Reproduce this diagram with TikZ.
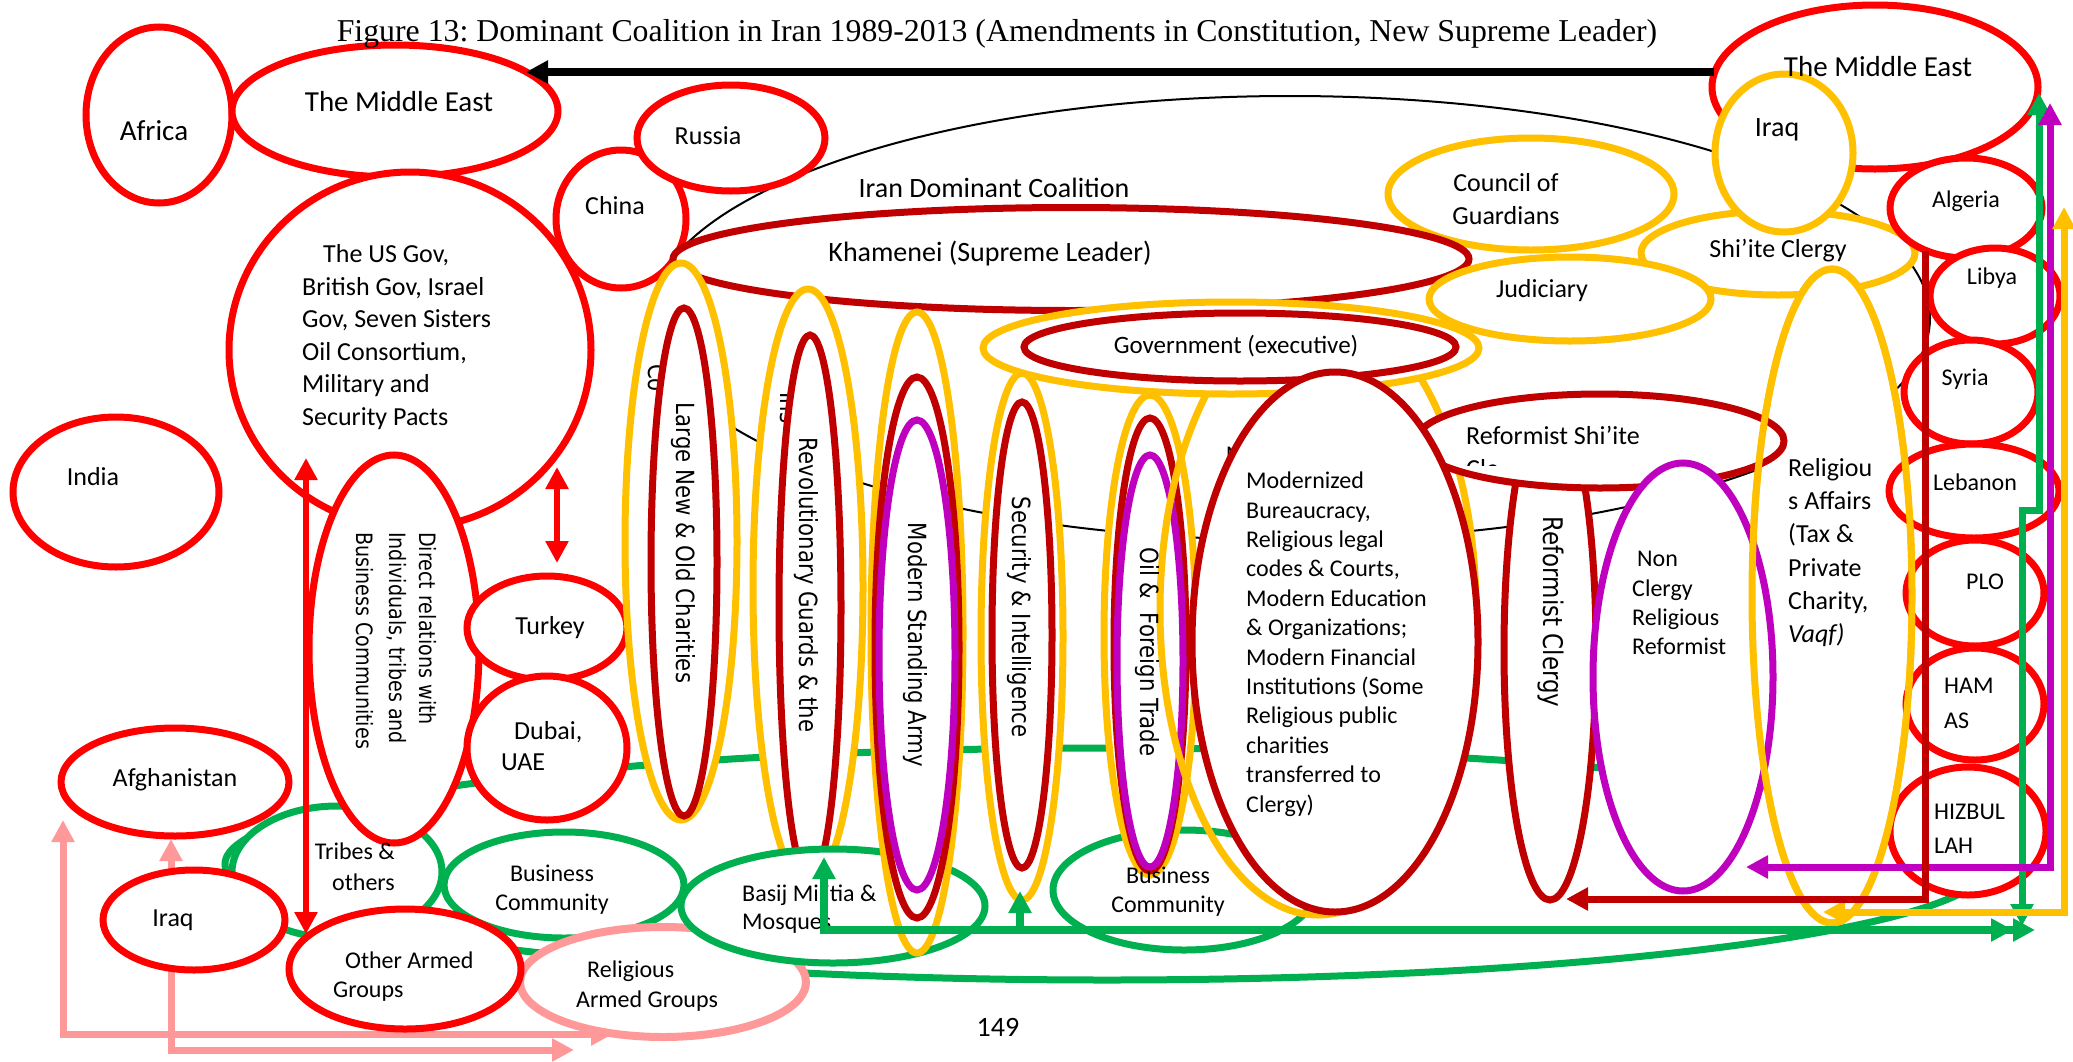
\documentclass[tikz,border=0pt]{standalone}
\usepackage{fontspec}
\setmainfont{Carlito}
\newfontfamily\titlefont{Liberation Serif}
\newfontfamily\rotfont{DejaVu Sans}[FakeStretch=0.85]
\usetikzlibrary{shapes.geometric,arrows.meta}
\definecolor{cRed}{HTML}{FF0000}
\definecolor{cDred}{HTML}{C00000}
\definecolor{cGold}{HTML}{FFC000}
\definecolor{cPurp}{HTML}{BF00BF}
\definecolor{cGreen}{HTML}{00B050}
\definecolor{cPink}{HTML}{FF9999}
\newcommand{\fz}[2]{\fontsize{#1bp}{#2bp}\selectfont}
\frenchspacing
\begin{document}
\begin{tikzpicture}[x=1bp,y=-1bp,
  >={Triangle[length=22bp,width=22bp]},
  oval/.style={ellipse, draw, fill=white, line width=7bp, inner sep=0pt, outer sep=0pt},
  sz/.style 2 args={minimum width=#1bp, minimum height=#2bp},
  rd/.style={oval, draw=cRed},
  drd/.style={oval, draw=cDred},
  gd/.style={oval, draw=cGold},
  pu/.style={oval, draw=cPurp},
  gr/.style={oval, draw=cGreen},
  pk/.style={oval, draw=cPink, line width=8bp},
  lbl/.style={inner sep=0pt, font=\fz{26}{31}},
  lbls/.style={inner sep=0pt, font=\fz{24}{29}},
  vtext/.style={inner sep=0pt, rotate=-90, font=\rotfont\fz{25}{30}},
  block/.style={anchor=north west, align=left},
  linkarrow/.style={line width=7bp}]

\fill[white] (0,0) rectangle (2073,1061);
\useasboundingbox (0,0) rectangle (2073,1061);

% outline of the coalition and of the wider society
\node[oval, draw=black, fill=none, line width=2bp, sz={1280}{444}] (coalition) at (1290,318) {};
\node[gr, sz={1764}{232}] (society) at (1107,864) {};

% pink links from Afghanistan and Iraq to the armed groups
\coordinate (pkA1) at (63,820);
\coordinate (pkA2) at (613,1034);
\coordinate (pkB1) at (171,839);
\coordinate (pkB2) at (574,1050);
\draw[<->, linkarrow, draw=cPink] (pkA1) |- (pkA2);
\draw[<->, linkarrow, draw=cPink] (pkB1) |- (pkB2);

% lower left groups
\node[gr, sz={210}{132}] (tribes) at (337,872) {};
\node[gr, sz={240}{106}] (bizL) at (564,885) {};
\node[pk, sz={286}{110}] (relarmed) at (663,982) {};
\node[rd, sz={232}{120}] (otherarmed) at (405,969) {};
\node[rd, sz={182}{100}] (iraqL) at (194,920) {};
\node[rd, sz={228}{108}] (afghan) at (175,782) {};

% foreign actors, left
\node[rd, sz={206}{150}] (india) at (116,492) {};
\node[rd, sz={146}{176}] (africa) at (159,115) {};
\node[rd, sz={326}{132}] (meL) at (395,111) {};
\node[rd, sz={362}{356}] (usgov) at (410,350) {};
\node[rd, sz={170}{388}] (direct) at (394,649) {};
\node[rd, sz={160}{104}] (turkey) at (547,628) {};
\node[rd, sz={160}{144}] (dubai) at (547,748) {};
\node[rd, sz={130}{138}] (china) at (621,219) {};
\node[rd, sz={188}{106}] (russia) at (731,138) {};

% top of the coalition
\node[gd, sz={286}{112}] (council) at (1531,194) {};
\node[gd, sz={274}{84}] (shiite) at (1778,253) {};
\node[drd, sz={796}{103}] (khamenei) at (1071,259) {};

% institution columns
\node[gd, sz={112}{557}] (charG) at (681,541.5) {};
\node[vtext] (fragA) at (658,378) {Co};
\node[drd, sz={66}{508}] (charR) at (684,562) {};
\node[gd, sz={110}{596}] (irgcG) at (808,587) {};
\node[vtext] (fragB) at (789,408) {Ins};
\node[drd, sz={62}{545}] (irgcR) at (810,607.5) {};
\node[gr, sz={304}{114}] (basij) at (833,906) {};
\node[gd, sz={92}{641}] (armyG) at (917,632.5) {};
\node[drd, sz={84}{541}] (armyR) at (917,647.5) {};
\node[pu, sz={76}{470}] (armyP) at (917,655) {};
\node[gd, sz={82}{527}] (secG) at (1022,636.5) {};
\node[drd, sz={60}{466}] (secR) at (1022,635) {};
\node[gr, sz={262}{120}] (bizR) at (1184,890) {};
\node[gd, sz={92}{480}] (oilG) at (1150,635) {};
\node[drd, sz={72}{453}] (oilR) at (1150,644.5) {};
\node[pu, sz={66}{412}] (oilP) at (1150,661) {};
\node[gd, fill=none, sz={316}{610}] (bureauG) at (1318,610) {};
\node[lbls] (fragC) at (1236,455) {M};
\node[gd, sz={496}{92}] (govG) at (1231,348) {};
\node[drd, sz={432}{68}] (govR) at (1240,347) {};
\node[gd, sz={282}{84}] (judiciary) at (1570,299) {};
\node[gd, sz={160}{654}] (relaff) at (1832,596) {};
\node[drd, sz={92}{500}] (refcl) at (1550,650) {};
\node[drd, sz={368}{94}] (refshi) at (1600,441) {};
\node[drd, sz={286}{540}] (modern) at (1335,642) {};
\node[pu, sz={180}{428}] (nonclergy) at (1683,677) {};

% foreign actors, right
\node[rd, sz={326}{164}] (meR) at (1875,87) {};
\node[gd, sz={138}{158}] (iraqR) at (1784,153) {};
\node[rd, sz={152}{100}] (algeria) at (1966,208) {};
\node[rd, sz={130}{96}] (libya) at (1995,296) {};
\node[rd, sz={134}{104}] (syria) at (1971,392) {};
\node[rd, sz={170}{94}] (lebanon) at (1974,491) {};
\node[rd, sz={138}{106}] (plo) at (1975,593) {};
\node[rd, sz={138}{112}] (hamas) at (1975,704) {};
\node[rd, sz={156}{128}] (hizb) at (1968,831) {};
\node[gd, fill=none, sz={160}{654}] (relaffrim) at (1832,596) {};

% labels
\node[inner sep=0pt, font=\titlefont\fz{31.8}{36}] (title) at (997,34) {Figure 13: Dominant Coalition in Iran 1989-2013 (Amendments in Constitution, New Supreme Leader)};
\node[lbl, font=\fz{29}{34}] (tMEL) at (399,102) {The Middle East};
\node[lbl, font=\fz{29}{34}] (tAfrica) at (154,131) {Africa};
\node[lbl] (tRussia) at (708,136) {Russia};
\node[lbl] (tChina) at (615,206) {China};
\node[lbl] (tIndia) at (93,477) {India};
\node[lbl, block, font=\fz{26}{32.6}] (tUS) at (302,239.5) {\hspace*{21bp}\strut The US Gov,\\British Gov, Israel\\Gov, Seven Sisters\\Oil Consortium,\\Military and\\Security Pacts};
\node[vtext, anchor=west, font=\rotfont\fz{22.5}{31}] (tDir1) at (428,532) {Direct relations with};
\node[vtext, anchor=west, font=\rotfont\fz{22.5}{31}] (tDir2) at (397,532) {Individuals, tribes and};
\node[vtext, anchor=west, font=\rotfont\fz{22.5}{31}] (tDir3) at (365,532) {Business Communities};
\node[lbl] (tTurkey) at (550,628) {Turkey};
\node[lbl, block, font=\fz{26}{31}] (tDubai) at (501,718) {\hspace*{13bp}\strut Dubai,\\UAE};
\node[lbl] (tAfg) at (175,780) {Afghanistan};
\node[lbl] (tIraqL) at (173,920) {Iraq};
\node[lbls, anchor=north east, align=right, font=\fz{24}{31}] (tTribes) at (395,838) {\strut Tribes \&\\others};
\node[lbls, align=center, anchor=north] (tBizL) at (552,861) {\strut Business\\Community};
\node[lbls, block, font=\fz{24}{29}] (tOther) at (333,948) {\hspace*{12bp}\strut Other Armed\\Groups};
\node[lbls, block, font=\fz{24}{30}] (tRelArmed) at (576,956) {\hspace*{11bp}\strut Religious\\Armed Groups};
\node[lbls, block, font=\fz{24}{28}] (tBasij) at (742,882) {\strut Basij Militia \&\\Mosques};
\node[lbls, align=center, anchor=north] (tBizR) at (1168,863) {\strut Business\\Community};

\node[lbl, font=\fz{28}{33}] (tCoal) at (994,188) {Iran Dominant Coalition};
\node[lbl, font=\fz{28}{33}] (tKham) at (990,254) {Khamenei (Supreme Leader)};
\node[lbl, font=\fz{25}{30}] (tGov) at (1236,346) {Government (executive)};
\node[vtext] (tChar) at (683,543) {Large New \& Old Charities};
\node[vtext] (tIrgc) at (806,585) {Revolutionary Guards \& the};
\node[vtext] (tArmy) at (915,645) {Modern Standing Army};
\node[vtext] (tSec) at (1019,617) {Security \& Intelligence};
\node[vtext] (tOil) at (1147,652) {Oil \&\ \ Foreign Trade};
\node[lbls, block, font=\fz{24}{29.4}] (tBureau) at (1246,468) {\strut Modernized\\Bureaucracy,\\Religious legal\\codes \& Courts,\\Modern Education\\\& Organizations;\\Modern Financial\\Institutions (Some\\Religious public\\charities\\transferred to\\Clergy)};
\node[lbl, anchor=base west] (tRefShi) at (1466,444.3) {Reformist Shi’ite};
\begin{scope}
  \clip (1400,450) rectangle (1497,465);
  \node[lbl, anchor=base west] (tRefShiB) at (1466,477) {Clergy};
\end{scope}
\node[vtext, font=\rotfont\fz{27}{32}] (tRefCl) at (1551,612) {Reformist Clergy};
\node[lbls, block, font=\fz{24}{29.3}] (tNonCl) at (1632,546) {\hspace*{5bp}\strut Non\\Clergy\\Religious\\Reformist};
\node[lbl, block, font=\fz{26}{33.2}] (tRelAff) at (1788,453) {\strut Religiou\\s Affairs\\(Tax \&\\Private\\Charity,\\\textit{Vaqf)}};
\node[lbl, align=center, anchor=north, font=\fz{26}{33}] (tCouncil) at (1506,168) {\strut Council of\\Guardians};
\node[lbl] (tJud) at (1542,291) {Judiciary};
\node[lbl] (tShi) at (1778,251) {Shi’ite Clergy};
\node[lbl, font=\fz{29}{34}] (tMER) at (1878,67) {The Middle East};
\node[lbl, font=\fz{28}{33}] (tIraqR) at (1777,130) {Iraq};
\node[lbls] (tAlg) at (1966,201) {Algeria};
\node[lbls] (tLib) at (1992,278) {Libya};
\node[lbls] (tSyr) at (1965,379) {Syria};
\node[lbls] (tLeb) at (1975,482) {Lebanon};
\node[lbls] (tPLO) at (1985,582) {PLO};
\node[lbls, block, font=\fz{24}{35}] (tHamas) at (1944,669) {\strut HAM\\AS};
\node[lbls, block, font=\fz{24}{34}] (tHizb) at (1934,795) {\strut HIZBUL\\LAH};
\node[lbl, font=\fz{28}{33}] (tPage) at (998,1027) {149};

% connectors
\coordinate (bkA) at (1714,72);
\coordinate (bkB) at (526,72);
\draw[->, line width=7.5bp] (bkA) -- (bkB);

\coordinate (rA1) at (306,458);
\coordinate (rA2) at (306,934);
\coordinate (rB1) at (557,467);
\coordinate (rB2) at (557,563);
\draw[<->, line width=6bp, draw=cRed] (rA1) -- (rA2);
\draw[<->, line width=6bp, draw=cRed] (rB1) -- (rB2);

\coordinate (gB1) at (824,857);
\coordinate (gB2) at (2035,930);
\coordinate (gC1) at (1020,891);
\coordinate (gC2) at (2013,930);
\draw[<->, line width=8bp, draw=cGreen] (gB1) |- (gB2);
\draw[<->, line width=8bp, draw=cGreen] (gC1) |- (gC2);

\coordinate (gR1) at (2039,93);
\coordinate (gRj) at (2022,510);
\coordinate (gR2) at (2022,926);
\draw[<->, linkarrow, draw=cGreen] (gR1) |- (gRj) -- (gR2);

\coordinate (pu1) at (2050,103);
\coordinate (pu2) at (1746,867);
\draw[<->, linkarrow, draw=cPurp] (pu1) |- (pu2);

\coordinate (go1) at (2064,207);
\coordinate (go2) at (1823,912);
\draw[<->, linkarrow, draw=cGold] (go1) |- (go2);

\coordinate (dr1) at (1925,251);
\coordinate (dr2) at (1566,899);
\draw[->, linkarrow, draw=cDred] (dr1) |- (dr2);
\end{tikzpicture}
\end{document}
